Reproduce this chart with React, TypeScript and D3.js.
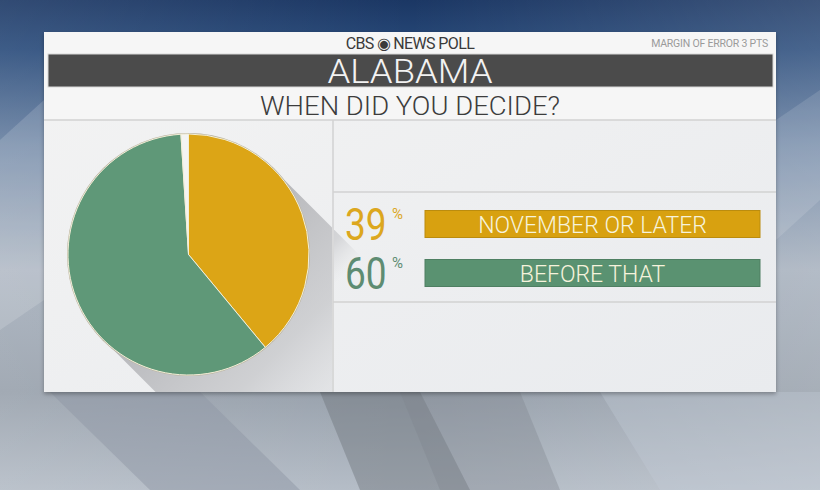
import React from "react";
import * as d3 from "d3";

const categories = ["NOVEMBER OR LATER", "BEFORE THAT", "NO ANSWER"];
const values = [39, 60, 1];
const labels = ["39", "60"];
const sliceColors = ["#dca516", "#5f9878", "#f4f4f2"];
const barColors = ["#d8a110", "#5a9271"];
const numColors = ["#dca71e", "#5e8c72"];

const W = 820, H = 490;
const panel = { x: 44, y: 32, w: 732, h: 360 };
const divX = 333;
const cx = 188.5, cy = 254.5, R = 120.5;

export default function App() {
  const pie = d3.pie<number>().sort(null).value((d) => d).startAngle(0).endAngle(2 * Math.PI);
  const arcs = pie(values);
  const arc = d3.arc<d3.PieArcDatum<number>>().innerRadius(0).outerRadius(R);

  const k = R / Math.SQRT2;
  const L = 400;
  const shadowPts = [
    [cx + k, cy - k],
    [cx + k + L, cy - k + L],
    [cx - k + L, cy + k + L],
    [cx - k, cy + k],
  ];
  const shadowPath = d3.line()(shadowPts as [number, number][]) + "Z";
  const proj = (p: number) => [cx + p / Math.SQRT2, cy + p / Math.SQRT2];
  const [g0x, g0y] = proj(0);
  const [g1x, g1y] = proj(240);
  const [h1x, h1y] = proj(125);

  const legendY = [224, 273];
  const barX = 425, barW = 335, barH = 27;

  return (
    <svg width={W} height={H} style={{ position: "absolute", left: 0, top: 0 }} fontFamily="Roboto, 'Open Sans', sans-serif">
      <defs>
        <linearGradient id="bg" x1="0" y1="0" x2="0" y2="1">
          <stop offset="0" stopColor="#1b3764" />
          <stop offset="0.1" stopColor="#284a7a" />
          <stop offset="0.3" stopColor="#6a82a2" />
          <stop offset="0.55" stopColor="#a6b0bd" />
          <stop offset="0.8" stopColor="#98a1ac" />
          <stop offset="1" stopColor="#b4bcc6" />
        </linearGradient>
        <linearGradient id="bgH" x1="0" y1="0" x2="1" y2="0">
          <stop offset="0" stopColor="#ffffff" stopOpacity="0.1" />
          <stop offset="0.5" stopColor="#ffffff" stopOpacity="0" />
          <stop offset="1" stopColor="#ffffff" stopOpacity="0.15" />
        </linearGradient>
        <linearGradient id="panelG" x1="0" y1="0" x2="1" y2="1">
          <stop offset="0" stopColor="#f3f3f3" />
          <stop offset="1" stopColor="#e9ebee" />
        </linearGradient>
        <linearGradient id="shadowG" gradientUnits="userSpaceOnUse" x1={g0x} y1={g0y} x2={g1x} y2={g1y}>
          <stop offset="0" stopColor="#a9aaae" stopOpacity="0.85" />
          <stop offset="0.55" stopColor="#bfc0c3" stopOpacity="0.65" />
          <stop offset="1" stopColor="#d6d7da" stopOpacity="0.1" />
        </linearGradient>
        <linearGradient id="shadowG2" gradientUnits="userSpaceOnUse" x1={g0x} y1={g0y} x2={h1x} y2={h1y}>
          <stop offset="0" stopColor="#a9aaae" stopOpacity="0.85" />
          <stop offset="0.75" stopColor="#bfc0c3" stopOpacity="0.55" />
          <stop offset="1" stopColor="#d6d7da" stopOpacity="0" />
        </linearGradient>
        <clipPath id="leftClip">
          <rect x={panel.x} y={121} width={divX - panel.x - 1} height={panel.y + panel.h - 121} />
        </clipPath>
        <clipPath id="legClip">
          <rect x={divX + 1} y={193} width={100} height={108} />
        </clipPath>
        <filter id="ps" x="-5%" y="-5%" width="110%" height="115%">
          <feDropShadow dx="0" dy="2" stdDeviation="2" floodColor="#000" floodOpacity="0.3" />
        </filter>
      </defs>

      {/* background */}
      <rect x={0} y={0} width={W} height={H} fill="url(#bg)" />
      <rect x={0} y={0} width={W} height={H} fill="url(#bgH)" />
      <polygon points="50,392 150,490 300,490 200,392" fill="#8f98a6" opacity="0.5" />
      <polygon points="320,392 360,490 470,490 420,392" fill="#6f757d" opacity="0.45" />
      <polygon points="400,392 440,490 560,490 520,392" fill="#7d838b" opacity="0.35" />
      <polygon points="600,392 660,490 820,490 820,392" fill="#c4ccd6" opacity="0.35" />
      <polygon points="0,140 44,100 44,300 0,330" fill="#ffffff" opacity="0.15" />
      <polygon points="776,120 820,90 820,200 776,240" fill="#ffffff" opacity="0.12" />

      {/* panel */}
      <rect x={panel.x} y={panel.y} width={panel.w} height={panel.h} fill="url(#panelG)" filter="url(#ps)" />
      <rect x={panel.x} y={panel.y} width={panel.w} height={88} fill="#f6f6f6" />

      {/* header */}
      <text x={410} y={49} textAnchor="middle" fontSize={16} fill="#3a3a3a" letterSpacing="-0.6">
        CBS
        <tspan dx="3" fill="#3a3a3a">◉</tspan>
        <tspan dx="3">NEWS POLL</tspan>
      </text>
      <text x={768} y={47} textAnchor="end" fontSize={10.5} fill="#9a9a9a" letterSpacing="-0.2">MARGIN OF ERROR 3 PTS</text>

      <rect x={48} y={54} width={725} height={33} fill="#4b4b4b" stroke="#d8d8d8" strokeWidth={1} />
      <text x={410} y={83} textAnchor="middle" fontSize={33} fontWeight={300} fill="#f2f2f2" textLength={165} lengthAdjust="spacingAndGlyphs">ALABAMA</text>

      <text x={410} y={115} textAnchor="middle" fontSize={25} fontWeight={300} fill="#3c3c3c" textLength={300} lengthAdjust="spacingAndGlyphs">WHEN DID YOU DECIDE?</text>

      {/* grid lines */}
      <line x1={panel.x} x2={panel.x + panel.w} y1={120} y2={120} stroke="#d2d2d2" strokeWidth={1.5} />
      <line x1={divX} x2={divX} y1={120} y2={panel.y + panel.h} stroke="#d2d2d2" strokeWidth={1.5} />
      <line x1={divX} x2={panel.x + panel.w} y1={192} y2={192} stroke="#d2d2d2" strokeWidth={1.5} />
      <line x1={divX} x2={panel.x + panel.w} y1={302} y2={302} stroke="#d2d2d2" strokeWidth={1.5} />

      {/* pie shadow */}
      <g clipPath="url(#leftClip)">
        <path d={shadowPath} fill="url(#shadowG)" />
      </g>
      <g clipPath="url(#legClip)">
        <path d={shadowPath} fill="url(#shadowG2)" />
      </g>

      {/* pie */}
      <g transform={`translate(${cx},${cy})`}>
        <circle r={R + 1} fill="#b9b2a0" />
        {arcs.map((a, i) => (
          <path key={categories[i]} d={arc(a) || ""} fill={sliceColors[i]} stroke="#f3efd8" strokeWidth={1} />
        ))}
      </g>

      {/* legend */}
      {labels.map((lab, i) => (
        <g key={lab}>
          <text transform={`translate(345,${legendY[i] + 16}) scale(1,1.2)`} fill={numColors[i]} fontSize={37}>{lab}</text>
          <text x={392} y={legendY[i] - 5} fill={numColors[i]} fontSize={15}>%</text>
          <rect x={barX} y={legendY[i] - barH / 2} width={barW} height={barH} fill={barColors[i]} stroke={d3.color(barColors[i])!.darker(0.4).toString()} strokeWidth={1} />
          <text x={barX + barW / 2} y={legendY[i] + 8.5} textAnchor="middle" fontSize={23} fontWeight={300} fill="#f6f3dc">{categories[i]}</text>
        </g>
      ))}
    </svg>
  );
}
